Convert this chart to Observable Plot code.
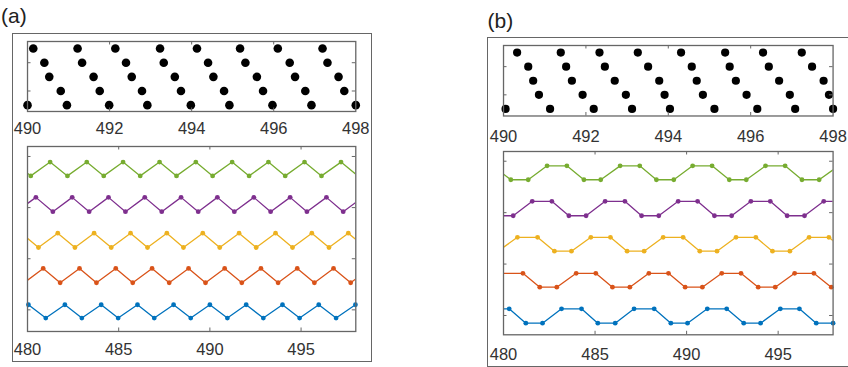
<!DOCTYPE html>
<html><head><meta charset="utf-8">
<script src="https://cdn.jsdelivr.net/npm/d3@7"></script>
<script src="https://cdn.jsdelivr.net/npm/@observablehq/plot@0.6"></script>
<style>
body{margin:0;width:848px;height:367px;position:relative;overflow:hidden;background:#fff;font-family:"Liberation Sans",Arial,Helvetica,sans-serif;}
.box{position:absolute;border:1.3px solid #666;box-sizing:border-box}
.lab{position:absolute;font-size:21px;line-height:21px;color:#222}
svg{position:absolute;overflow:visible;background:transparent}
</style></head><body>
<div class="box" style="left:11.5px;top:33px;width:360px;height:328.5px"></div>
<div class="box" style="left:486.5px;top:37px;width:400px;height:329.5px"></div>
<div class="lab" style="left:1px;top:4.5px">(a)</div>
<div class="lab" style="left:487.5px;top:9.5px">(b)</div>
<script>
// ---------- colours ----------
const seriesColors = ["#0072BD", "#D95319", "#EDB120", "#7E2F8E", "#77AC30"];

// ---------- tick values ----------
const topTickLabels = [490, 492, 494, 496, 498];
const topTickMarks = [492, 494, 496];
const topLevelTicks = [1, 3];
const botTickLabels = [480, 485, 490, 495];
const botTickMarks = [485, 490, 495];
const botLevelTicks = [1, 2, 3, 4];

// ---------- panel (a), top: black dots ----------
const topAX = [490.00,490.14,490.41,490.53,490.81,490.96,491.22,491.33,491.61,491.76,491.99,492.14,492.40,492.54,492.79,492.92,493.23,493.32,493.59,493.74,493.98,494.13,494.40,494.53,494.79,494.92,495.18,495.31,495.59,495.74,495.97,496.10,496.39,496.52,496.77,496.92,497.19,497.31,497.58,497.72,498.00];
const topALevel = [0,4,3,2,1,0,4,3,2,1,0,4,3,2,1,0,4,3,2,1,0,4,3,2,1,0,4,3,2,1,0,4,3,2,1,0,4,3,2,1,0];

// ---------- panel (b), top: black dots ----------
const topBX = [490.05,490.33,490.60,490.72,490.86,491.13,491.39,491.52,491.66,491.92,492.19,492.33,492.46,492.70,492.97,493.12,493.26,493.51,493.78,493.91,494.04,494.31,494.57,494.69,494.84,495.12,495.38,495.49,495.64,495.90,496.16,496.30,496.44,496.69,496.95,497.08,497.24,497.49,497.77,497.90,498.00];
const topBLevel = [0,4,3,2,1,0,4,3,2,1,0,4,3,2,1,0,4,3,2,1,0,4,3,2,1,0,4,3,2,1,0,4,3,2,1,0,4,3,2,1,0];

// ---------- panel (a), bottom: five series ----------
const aBlueX   = [479.02,480.05,481.00,482.05,482.98,484.04,484.97,486.03,486.95,488.01,488.95,490.00,490.96,491.99,492.93,493.98,494.92,495.97,496.92,497.98,498.93];
const aBlueY   = [0.84,1.10,0.84,1.10,0.84,1.10,0.84,1.10,0.84,1.10,0.84,1.10,0.84,1.10,0.84,1.10,0.84,1.10,0.84,1.10,0.84];
const aOrangeX = [479.82,480.86,481.79,482.85,483.78,484.84,485.77,486.83,487.77,488.83,489.76,490.81,491.75,492.80,493.74,494.79,495.73,496.78,497.72,498.77];
const aOrangeY = [1.53,1.81,1.53,1.81,1.53,1.81,1.53,1.81,1.53,1.81,1.53,1.81,1.53,1.81,1.53,1.81,1.53,1.81,1.53,1.81];
const aYellowX = [479.66,480.60,481.66,482.60,483.65,484.59,485.65,486.58,487.64,488.55,489.61,490.54,491.60,492.54,493.60,494.53,495.59,496.53,497.59,498.53];
const aYellowY = [2.50,2.22,2.50,2.22,2.50,2.22,2.50,2.22,2.50,2.22,2.50,2.22,2.50,2.22,2.50,2.22,2.50,2.22,2.50,2.22];
const aPurpleX = [479.39,480.46,481.39,482.45,483.38,484.44,485.37,486.43,487.36,488.42,489.36,490.41,491.34,492.41,493.33,494.40,495.32,496.39,497.31,498.38];
const aPurpleY = [2.92,3.20,2.92,3.20,2.92,3.20,2.92,3.20,2.92,3.20,2.92,3.20,2.92,3.20,2.92,3.20,2.92,3.20,2.92,3.20];
const aGreenX  = [479.26,480.18,481.24,482.19,483.25,484.18,485.24,486.18,487.24,488.17,489.23,490.15,491.22,492.15,493.21,494.13,495.19,496.12,497.19,498.12];
const aGreenY  = [3.89,3.62,3.89,3.62,3.89,3.62,3.89,3.62,3.89,3.62,3.89,3.62,3.89,3.62,3.89,3.62,3.89,3.62,3.89,3.62];

// ---------- panel (b), bottom: five series ----------
const bBlueX   = [479.30,480.31,481.22,482.13,483.17,484.26,485.15,486.10,487.13,488.23,489.14,490.05,491.13,492.19,493.12,494.04,495.12,496.16,497.08,498.00,498.95];
const bBlueY   = [1.13,1.13,0.85,0.85,1.13,1.13,0.85,0.85,1.13,1.13,0.85,0.85,1.13,1.13,0.85,0.85,1.13,1.13,0.85,0.85,1.13];
const bOrangeX = [479.98,481.06,481.98,482.91,483.97,485.04,485.95,486.90,487.94,489.01,489.92,490.86,491.92,492.97,493.91,494.84,495.90,496.95,497.90,498.85];
const bOrangeY = [1.82,1.82,1.55,1.55,1.82,1.82,1.55,1.55,1.82,1.82,1.55,1.55,1.82,1.82,1.55,1.55,1.82,1.82,1.55,1.55];
const bYellowX = [479.70,480.76,481.86,482.78,483.71,484.77,485.84,486.75,487.68,488.72,489.81,490.72,491.66,492.70,493.78,494.69,495.64,496.69,497.77,498.70];
const bYellowY = [2.25,2.52,2.52,2.25,2.25,2.52,2.52,2.25,2.25,2.52,2.52,2.25,2.25,2.52,2.52,2.25,2.25,2.52,2.52,2.25];
const bPurpleX = [479.60,480.53,481.57,482.64,483.57,484.51,485.55,486.63,487.54,488.48,489.54,490.60,491.52,492.46,493.51,494.57,495.49,496.44,497.49,498.55];
const bPurpleY = [2.94,2.94,3.22,3.22,2.94,2.94,3.22,3.22,2.94,2.94,3.22,3.22,2.94,2.94,3.22,3.22,2.94,2.94,3.22,3.22];
const bGreenX  = [479.40,480.40,481.35,482.38,483.46,484.39,485.31,486.37,487.44,488.35,489.30,490.33,491.39,492.33,493.26,494.31,495.38,496.30,497.24,498.30];
const bGreenY  = [3.91,3.64,3.64,3.91,3.91,3.64,3.64,3.91,3.91,3.64,3.64,3.91,3.91,3.64,3.64,3.91,3.91,3.64,3.64,3.91];

// ---------- helpers ----------
const zip = (xs, ys) => xs.map((x, i) => ({x, y: ys[i]}));
const FRAME = "#666";
const TEXT = "#333";

function panel({x0, x1, y0, y1, xDomain, yDomain, labelTicks, markTicks, levelTicks, pad, marks}) {
  const mL = 26, mR = 26, mT = 8, mB = 40;
  const fw = x1 - x0, fh = y1 - y0;
  const svg = Plot.plot({
    width: fw + mL + mR, height: fh + mT + mB,
    marginLeft: mL, marginRight: mR, marginTop: mT, marginBottom: mB,
    x: {domain: xDomain, axis: null, label: null},
    y: {domain: yDomain, axis: null, label: null},
    style: {fontSize: "16px", fontFamily: "'Liberation Sans', Arial, Helvetica, sans-serif", color: TEXT, background: "transparent", overflow: "visible"},
    marks: [
      ...marks,
      Plot.frame({stroke: FRAME, strokeWidth: 1.3}),
      Plot.tickX(markTicks, {x: d => d, insetBottom: fh - 3.5, stroke: FRAME}),
      Plot.tickX(markTicks, {x: d => d, insetTop: fh - 3.5, stroke: FRAME}),
      Plot.tickY(levelTicks, {y: d => d, insetRight: fw - 3.5, stroke: FRAME}),
      Plot.tickY(levelTicks, {y: d => d, insetLeft: fw - 3.5, stroke: FRAME}),
      Plot.axisX(labelTicks, {tickSize: 0, tickPadding: pad, fontSize: 16.5, fill: TEXT, label: null, tickFormat: d => String(d)})
    ]
  });
  svg.style.left = (x0 - mL) + "px";
  svg.style.top = (y0 - mT) + "px";
  document.body.appendChild(svg);
}

function seriesMarks(list, domain) {
  const out = [];
  list.forEach(([xs, ys], i) => {
    const data = zip(xs, ys);
    out.push(Plot.line(data, {x: "x", y: "y", stroke: seriesColors[i], strokeWidth: 1.3, clip: true}));
    out.push(Plot.dot(data.filter(d => d.x >= domain[0] && d.x <= domain[1]), {x: "x", y: "y", r: 2.4, fill: seriesColors[i], stroke: "none"}));
  });
  return out;
}

// ---------- panel (a) ----------
panel({
  x0: 26.7, x1: 355, y0: 41, y1: 111,
  xDomain: [490, 498], yDomain: [-0.45, 4.5],
  labelTicks: topTickLabels, markTicks: topTickMarks, levelTicks: topLevelTicks, pad: 11,
  marks: [Plot.dot(zip(topAX, topALevel), {x: "x", y: "y", r: 4.3, fill: "#000", stroke: "none"})]
});
panel({
  x0: 26.7, x1: 355, y0: 146, y1: 331,
  xDomain: [480, 498], yDomain: [0.577, 4.195],
  labelTicks: botTickLabels, markTicks: botTickMarks, levelTicks: botLevelTicks, pad: 12,
  marks: seriesMarks([[aBlueX, aBlueY], [aOrangeX, aOrangeY], [aYellowX, aYellowY], [aPurpleX, aPurpleY], [aGreenX, aGreenY]], [480, 498])
});

// ---------- panel (b) ----------
panel({
  x0: 502.7, x1: 832.3, y0: 44.5, y1: 115,
  xDomain: [490, 498], yDomain: [-0.5, 4.5],
  labelTicks: topTickLabels, markTicks: topTickMarks, levelTicks: topLevelTicks, pad: 14,
  marks: [Plot.dot(zip(topBX, topBLevel), {x: "x", y: "y", r: 4.1, fill: "#000", stroke: "none"})]
});
panel({
  x0: 502.7, x1: 832.3, y0: 151, y1: 334.3,
  xDomain: [480, 498], yDomain: [0.625, 4.189],
  labelTicks: botTickLabels, markTicks: botTickMarks, levelTicks: botLevelTicks, pad: 13,
  marks: seriesMarks([[bBlueX, bBlueY], [bOrangeX, bOrangeY], [bYellowX, bYellowY], [bPurpleX, bPurpleY], [bGreenX, bGreenY]], [480, 498])
});
</script>
</body></html>
